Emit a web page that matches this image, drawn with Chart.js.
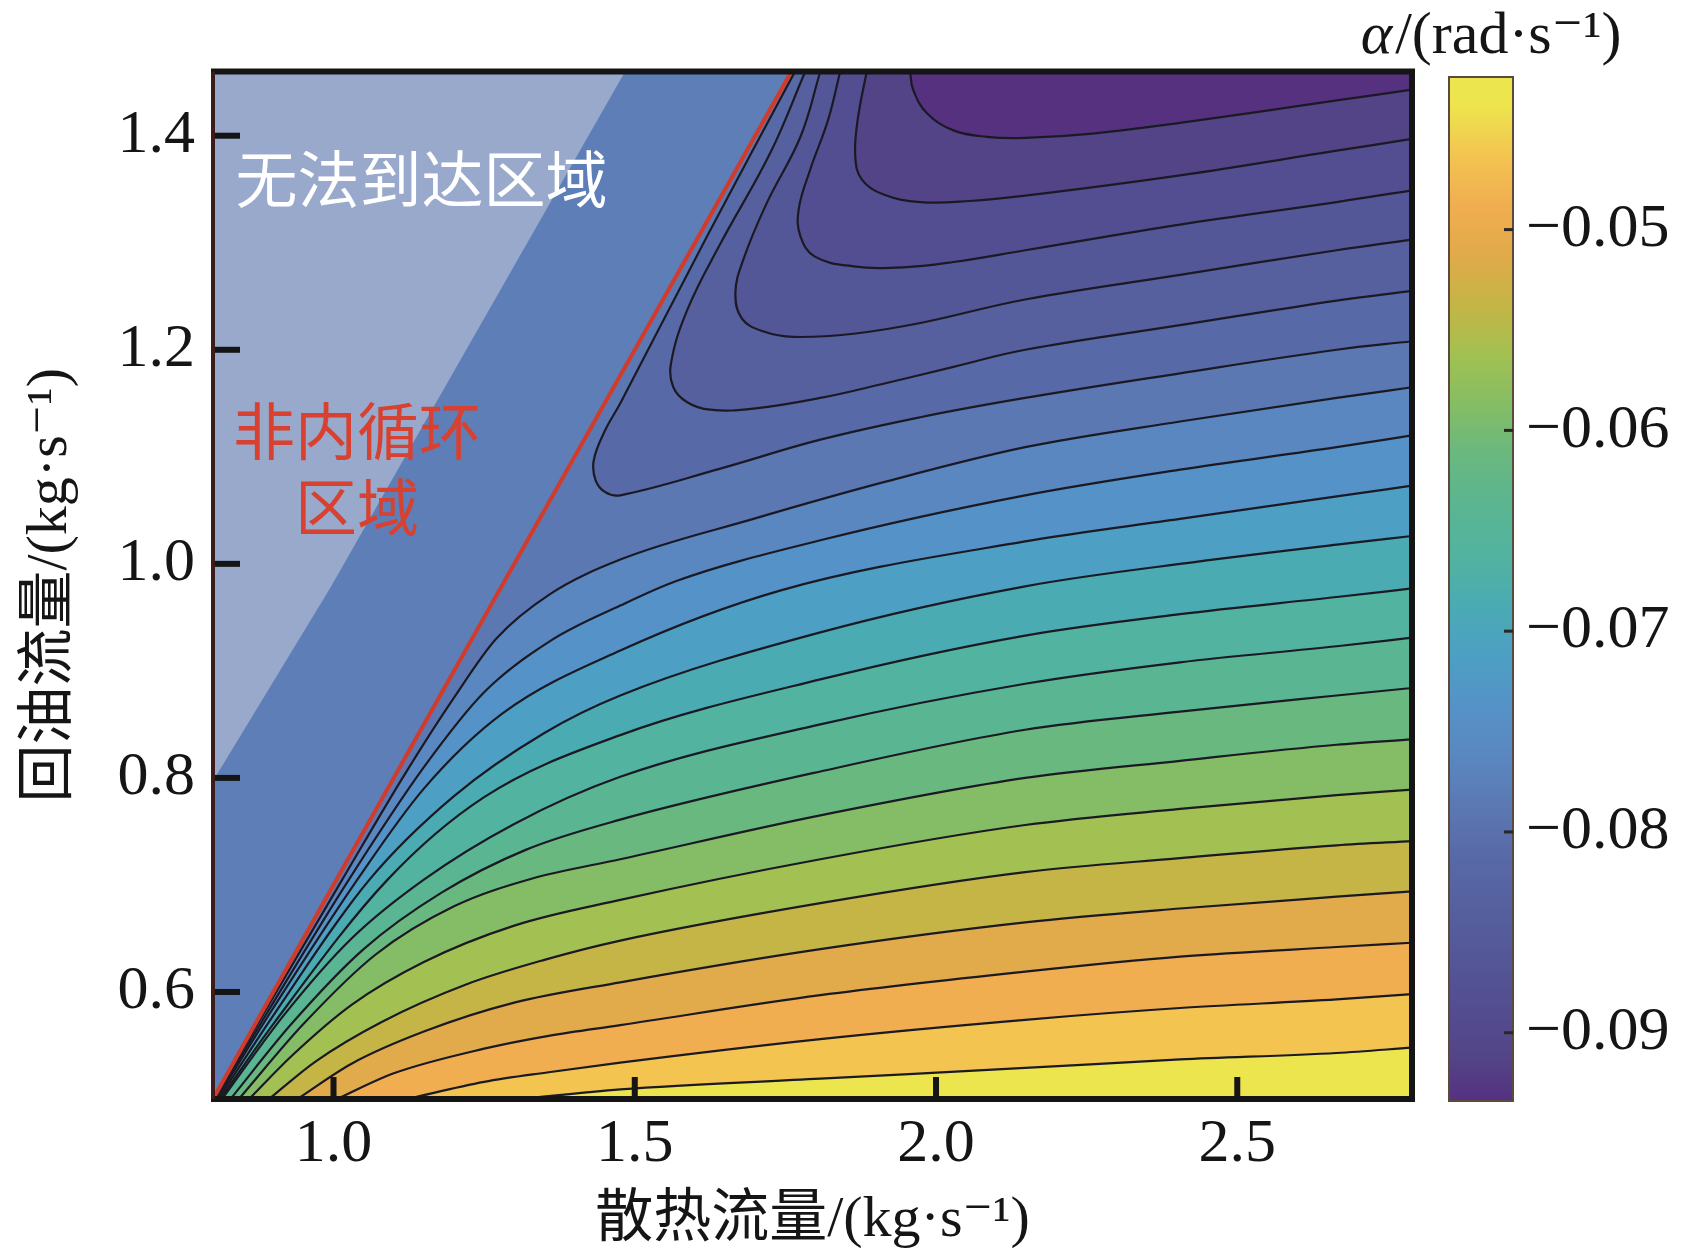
<!DOCTYPE html>
<html>
<head>
<meta charset="utf-8">
<script src="https://cdn.jsdelivr.net/npm/chart.js@4/dist/chart.umd.min.js"></script>
<style>
  html, body { margin: 0; padding: 0; background: #fff; }
  #wrap { position: relative; width: 1681px; height: 1260px; }
  #main { position: absolute; left: 0; top: 0; }
  #bar { position: absolute; left: 1300px; top: 0; }
</style>
</head>
<body>
<div id="wrap">
  <canvas id="main" width="1681" height="1260"></canvas>
  <canvas id="bar" width="381" height="1260"></canvas>
</div>
<script>
// axis ranges and ticks
const xRange = [0.8, 2.79];
const yRange = [0.5, 1.46];
const cbRange = [-0.0934, -0.0424];
const xTicks = [1.0, 1.5, 2.0, 2.5];
const yTicks = [0.6, 0.8, 1.0, 1.2, 1.4];
const cbTicks = [-0.09, -0.08, -0.07, -0.06, -0.05];

// contour levels, top (darkest) line first
const levels = [-0.0925, -0.09, -0.0875, -0.085, -0.0825, -0.08, -0.0775, -0.075, -0.0725, -0.07,
                -0.0675, -0.065, -0.0625, -0.06, -0.0575, -0.055, -0.0525, -0.05, -0.0475, -0.045];

// contour lines [散热流量, 回油流量]; the first six come down from the top edge
const line01 = [[1.957,1.46],[1.962,1.443],[1.985,1.421],[2.029,1.405],[2.084,1.399],[2.148,1.398],[2.26,1.402],[2.405,1.412],[2.665,1.433],[2.79,1.443]];
const line02 = [[1.885,1.46],[1.870,1.415],[1.866,1.380],[1.877,1.359],[1.913,1.345],[1.974,1.338],[2.056,1.339],[2.148,1.344],[2.405,1.363],[2.665,1.386],[2.79,1.397]];
const line03 = [[1.841,1.46],[1.821,1.415],[1.791,1.368],[1.772,1.331],[1.775,1.306],[1.799,1.287],[1.863,1.278],[1.946,1.277],[2.029,1.282],[2.148,1.293],[2.405,1.317],[2.665,1.338],[2.79,1.349]];
const line04 = [[1.808,1.46],[1.775,1.399],[1.719,1.337],[1.680,1.284],[1.667,1.253],[1.678,1.229],[1.714,1.217],[1.763,1.212],[1.863,1.215],[1.974,1.225],[2.148,1.247],[2.405,1.270],[2.665,1.293],[2.79,1.303]];
const line05 = [[1.783,1.46],[1.725,1.384],[1.642,1.299],[1.587,1.237],[1.560,1.187],[1.564,1.165],[1.587,1.151],[1.625,1.144],[1.697,1.145],[1.808,1.155],[1.918,1.169],[2.029,1.184],[2.148,1.200],[2.405,1.223],[2.665,1.246],[2.79,1.255]];
const line06 = [[1.766,1.46],[1.620,1.306],[1.476,1.150],[1.451,1.125],[1.432,1.097],[1.435,1.078],[1.451,1.067],[1.476,1.064],[1.642,1.089],[1.808,1.116],[1.974,1.137],[2.148,1.155],[2.405,1.178],[2.665,1.200],[2.79,1.208]];
const line07 = [[0.802,0.5],[0.9,0.595],[1.014,0.7045],[1.12,0.805],[1.2,0.875],[1.27,0.93],[1.36,0.972],[1.476,1.004],[1.697,1.042],[1.918,1.077],[2.148,1.109],[2.405,1.133],[2.665,1.155],[2.79,1.165]];
const line08 = [[0.804,0.5],[0.9,0.59],[1.025,0.7045],[1.15,0.81],[1.25,0.88],[1.36,0.928],[1.476,0.961],[1.569,0.984],[1.808,1.022],[2.148,1.064],[2.405,1.088],[2.665,1.109],[2.79,1.120]];
const line09 = [[0.806,0.5],[0.9,0.585],[1.039,0.7045],[1.15,0.79],[1.28,0.86],[1.476,0.919],[1.741,0.975],[2.148,1.021],[2.405,1.042],[2.665,1.063],[2.79,1.073]];
const line10 = [[0.809,0.5],[0.9,0.578],[1.059,0.7045],[1.2,0.783],[1.35,0.842],[1.476,0.877],[1.808,0.936],[2.148,0.979],[2.405,1.000],[2.665,1.018],[2.79,1.026]];
const line11 = [[0.812,0.5],[0.9,0.57],[1.089,0.7045],[1.25,0.782],[1.476,0.840],[1.808,0.892],[2.148,0.933],[2.405,0.953],[2.665,0.969],[2.79,0.977]];
const line12 = [[0.815,0.5],[0.92,0.58],[1.03,0.65],[1.15,0.705],[1.3,0.757],[1.476,0.801],[1.808,0.850],[2.148,0.888],[2.405,0.908],[2.665,0.923],[2.79,0.931]];
const line13 = [[0.829,0.5],[0.93,0.57],[1.05,0.64],[1.18,0.693],[1.32,0.733],[1.476,0.761],[1.808,0.806],[2.148,0.845],[2.405,0.862],[2.665,0.877],[2.79,0.884]];
const line14 = [[0.843,0.5],[0.95,0.57],[1.07,0.635],[1.2,0.68],[1.33,0.706],[1.476,0.724],[1.808,0.765],[2.148,0.800],[2.405,0.816],[2.665,0.831],[2.79,0.836]];
const line15 = [[0.860,0.5],[0.93,0.54],[1.03,0.588],[1.15,0.628],[1.30,0.662],[1.476,0.686],[1.808,0.724],[2.148,0.756],[2.405,0.771],[2.665,0.784],[2.79,0.789]];
const line16 = [[0.893,0.5],[0.97,0.535],[1.08,0.572],[1.22,0.607],[1.35,0.630],[1.476,0.648],[1.808,0.683],[2.148,0.712],[2.405,0.725],[2.665,0.737],[2.79,0.741]];
const line17 = [[0.940,0.5],[1.03,0.533],[1.15,0.563],[1.30,0.59],[1.476,0.609],[1.808,0.640],[2.148,0.665],[2.405,0.678],[2.665,0.689],[2.79,0.694]];
const line18 = [[1.006,0.5],[1.1,0.524],[1.25,0.547],[1.357,0.559],[1.476,0.569],[1.808,0.597],[2.148,0.619],[2.405,0.633],[2.665,0.642],[2.79,0.646]];
const line19 = [[1.122,0.5],[1.25,0.516],[1.357,0.525],[1.476,0.534],[1.808,0.556],[2.148,0.574],[2.405,0.585],[2.665,0.593],[2.79,0.598]];
const line20 = [[1.310,0.5],[1.476,0.509],[1.808,0.519],[2.148,0.529],[2.405,0.537],[2.665,0.543],[2.79,0.548]];
const contours = [line01, line02, line03, line04, line05, line06, line07, line08, line09, line10,
                  line11, line12, line13, line14, line15, line16, line17, line18, line19, line20];
const topLines = 6;

// region boundaries
const circulationEdge = [[0.8, 0.5], [1.76, 1.46]];
const unreachableEdge = [[0.8, 0.797], [0.995, 0.978], [1.484, 1.46]];
const regionLabels = ['无法到达区域', '非内循环', '区域'];

// styles
const SERIF = "'Liberation Serif', 'DejaVu Serif', 'Noto Sans CJK SC', serif";
const CJK = "'Noto Sans CJK SC', sans-serif";
const INK = '#151515';
const CMAP = ['#553180', '#534487', '#534e91', '#545797', '#56609f', '#5869a7', '#5b78b3', '#5a87c0',
              '#5592c7', '#4d9fc4', '#4aabb3', '#52b3a0', '#5ab592', '#69b87f', '#84bd65', '#a2c152',
              '#c4b546', '#e1aa4a', '#f1ae50', '#f3c550', '#ede54e'];
const step = levels[1] - levels[0];
const cmapStart = levels[0] - step / 2;

function hexRgb(h) { return [1, 3, 5].map(i => parseInt(h.slice(i, i + 2), 16)); }
function colorAt(v) {
  let t = (v - cmapStart) / step;
  t = Math.max(0, Math.min(CMAP.length - 1, t));
  const i = Math.min(Math.floor(t), CMAP.length - 2), f = t - i;
  const a = hexRgb(CMAP[i]), b = hexRgb(CMAP[i + 1]);
  return 'rgb(' + a.map((c, k) => Math.round(c + (b[k] - c) * f)).join(',') + ')';
}

const contourSets = contours.map((pts, i) => ({
  data: pts.map(([x, y]) => ({ x, y })),
  borderColor: '#1b1a24',
  borderWidth: 2.2,
  pointRadius: 0,
  tension: 0.4,
  cubicInterpolationMode: i < topLines ? 'default' : 'monotone',
  fill: false,
  order: 10,
  band: i < topLines ? 'above' : 'below',
  bandColor: colorAt(i < topLines ? levels[i] - step / 2 : levels[i] + step / 2)
}));

// filled bands: each line path closed to a corner of the plot area
const bandsPlugin = {
  id: 'bands',
  beforeDatasetsDraw(chart) {
    const { ctx, chartArea: a } = chart;
    ctx.save();
    ctx.beginPath();
    ctx.rect(a.left, a.top, a.right - a.left, a.bottom - a.top);
    ctx.clip();
    ctx.fillStyle = colorAt((levels[topLines - 1] + levels[topLines]) / 2);
    ctx.fillRect(a.left, a.top, a.right - a.left, a.bottom - a.top);
    const order = [];
    for (let i = topLines; i < contours.length; i++) order.push(i);
    for (let i = topLines - 1; i >= 0; i--) order.push(i);
    order.forEach(i => {
      const ds = chart.data.datasets[i];
      const line = chart.getDatasetMeta(i).dataset;
      line.updateControlPoints(a, 'x');
      ctx.beginPath();
      line.path(ctx);
      ctx.lineTo(a.right, ds.band === 'above' ? a.top : a.bottom);
      ctx.closePath();
      ctx.fillStyle = ds.bandColor;
      ctx.fill();
    });
    ctx.restore();
  }
};

const framePlugin = {
  id: 'frame',
  afterDatasetsDraw(chart) {
    const { ctx, chartArea: a, scales: { x, y } } = chart;
    ctx.save();
    ctx.fillStyle = INK;
    x.ticks.forEach(t => {
      const px = x.getPixelForValue(t.value);
      ctx.fillRect(px - 3, a.bottom - 22, 6, 22);
    });
    y.ticks.forEach(t => {
      const py = y.getPixelForValue(t.value);
      ctx.fillRect(a.left, py - 3, 27, 6);
    });
    ctx.strokeStyle = INK;
    ctx.lineWidth = 6;
    ctx.beginPath();
    ctx.moveTo(a.left - 2, a.top);
    ctx.lineTo(a.right, a.top);
    ctx.lineTo(a.right, a.bottom);
    ctx.lineTo(a.left - 2, a.bottom);
    ctx.stroke();
    ctx.strokeStyle = '#3c1b1b';
    ctx.lineWidth = 4;
    ctx.beginPath();
    ctx.moveTo(a.left, a.top);
    ctx.lineTo(a.left, a.bottom);
    ctx.stroke();

    ctx.textBaseline = 'middle';
    ctx.font = '62px ' + CJK;
    ctx.fillStyle = '#ffffff';
    ctx.textAlign = 'left';
    ctx.fillText(regionLabels[0], x.getPixelForValue(0.8375), y.getPixelForValue(1.3595));
    ctx.fillStyle = '#d8402f';
    ctx.textAlign = 'center';
    ctx.fillText(regionLabels[1], x.getPixelForValue(1.039), y.getPixelForValue(1.1236));
    ctx.fillText(regionLabels[2], x.getPixelForValue(1.039), y.getPixelForValue(1.0525));
    ctx.restore();
  }
};

new Chart(document.getElementById('main'), {
  type: 'line',
  data: {
    datasets: [
      ...contourSets,
      {
        data: circulationEdge.map(([x, y]) => ({ x, y })),
        borderColor: '#d03b2b',
        borderWidth: 4,
        pointRadius: 0,
        fill: 'end',
        backgroundColor: '#5e7eb7',
        order: 2
      },
      {
        data: unreachableEdge.map(([x, y]) => ({ x, y })),
        borderWidth: 0,
        pointRadius: 0,
        fill: 'end',
        backgroundColor: '#98a9cc',
        order: 1
      }
    ]
  },
  options: {
    responsive: false,
    animation: false,
    devicePixelRatio: 1,
    events: [],
    layout: { padding: { left: 0, right: 269, top: 71.5, bottom: 0 } },
    plugins: { legend: { display: false }, tooltip: { enabled: false } },
    scales: {
      x: {
        type: 'linear',
        min: xRange[0], max: xRange[1],
        grid: { display: false },
        border: { display: false },
        afterFit: s => { s.height = 161; },
        afterBuildTicks: s => { s.ticks = xTicks.map(v => ({ value: v })); },
        ticks: { padding: 1, color: INK, autoSkip: false, maxRotation: 0,
                 font: { family: SERIF, size: 62 }, callback: v => Number(v).toFixed(1) },
        title: { display: true, text: '散热流量/(kg·s⁻¹)', color: INK,
                 font: { family: SERIF, size: 58 }, padding: { top: 0, bottom: 4 } }
      },
      y: {
        type: 'linear',
        min: yRange[0], max: yRange[1],
        grid: { display: false },
        border: { display: false },
        afterFit: s => { s.width = 213; },
        afterBuildTicks: s => { s.ticks = yTicks.map(v => ({ value: v })); },
        ticks: { padding: 10, color: INK, autoSkip: false,
                 font: { family: SERIF, size: 62 }, callback: v => Number(v).toFixed(1) },
        title: { display: true, text: '回油流量/(kg·s⁻¹)', color: INK,
                 font: { family: SERIF, size: 58 }, padding: { top: 16, bottom: 0 } }
      }
    }
  },
  plugins: [bandsPlugin, framePlugin]
});

// colour bar
const barPlugin = {
  id: 'barFrame',
  afterDatasetsDraw(chart) {
    const { ctx, chartArea: a, scales: { y } } = chart;
    ctx.save();
    ctx.strokeStyle = '#5b4a3c';
    ctx.lineWidth = 2;
    ctx.strokeRect(a.left, a.top, a.right - a.left, a.bottom - a.top);
    ctx.fillStyle = '#2a2622';
    y.ticks.forEach(t => {
      const py = y.getPixelForValue(t.value);
      ctx.fillRect(a.right - 9, py - 1.5, 9, 3);
    });
    const cx = (a.left + a.right) / 2 + 10;
    const rest = '/(rad·s⁻¹)';
    ctx.font = 'italic 60px ' + SERIF;
    const w1 = ctx.measureText('α').width;
    ctx.font = '60px ' + SERIF;
    const w2 = ctx.measureText(rest).width;
    const x0 = cx - (w1 + w2 + 3) / 2;
    ctx.fillStyle = INK;
    ctx.textBaseline = 'alphabetic';
    ctx.textAlign = 'left';
    ctx.font = 'italic 60px ' + SERIF;
    ctx.fillText('α', x0, a.top - 24);
    ctx.font = '60px ' + SERIF;
    ctx.fillText(rest, x0 + w1 + 3, a.top - 24);
    ctx.restore();
  }
};

new Chart(document.getElementById('bar'), {
  type: 'bar',
  data: {
    labels: [''],
    datasets: [{
      data: [cbRange],
      barPercentage: 1,
      categoryPercentage: 1,
      borderWidth: 0,
      backgroundColor: c => {
        const ch = c.chart, a = ch.chartArea;
        if (!a) return CMAP[0];
        const g = ch.ctx.createLinearGradient(0, a.bottom, 0, a.top);
        CMAP.forEach((col, i) => {
          const v = cmapStart + i * step;
          const p = Math.max(0, Math.min(1, (v - cbRange[0]) / (cbRange[1] - cbRange[0])));
          g.addColorStop(p, col);
        });
        return g;
      }
    }]
  },
  options: {
    responsive: false,
    animation: false,
    devicePixelRatio: 1,
    events: [],
    layout: { padding: { left: 149, right: 0, top: 77, bottom: 159 } },
    plugins: { legend: { display: false }, tooltip: { enabled: false } },
    scales: {
      x: { display: false },
      y: {
        position: 'right',
        min: cbRange[0], max: cbRange[1],
        grid: { display: false },
        border: { display: false },
        afterFit: s => { s.width = 168; },
        afterBuildTicks: s => { s.ticks = cbTicks.map(v => ({ value: v })); },
        ticks: { padding: 5, color: INK, autoSkip: false,
                 font: { family: SERIF, size: 62 },
                 callback: v => '\u2212' + Math.abs(v).toFixed(2) }
      }
    }
  },
  plugins: [barPlugin]
});
</script>
</body>
</html>
